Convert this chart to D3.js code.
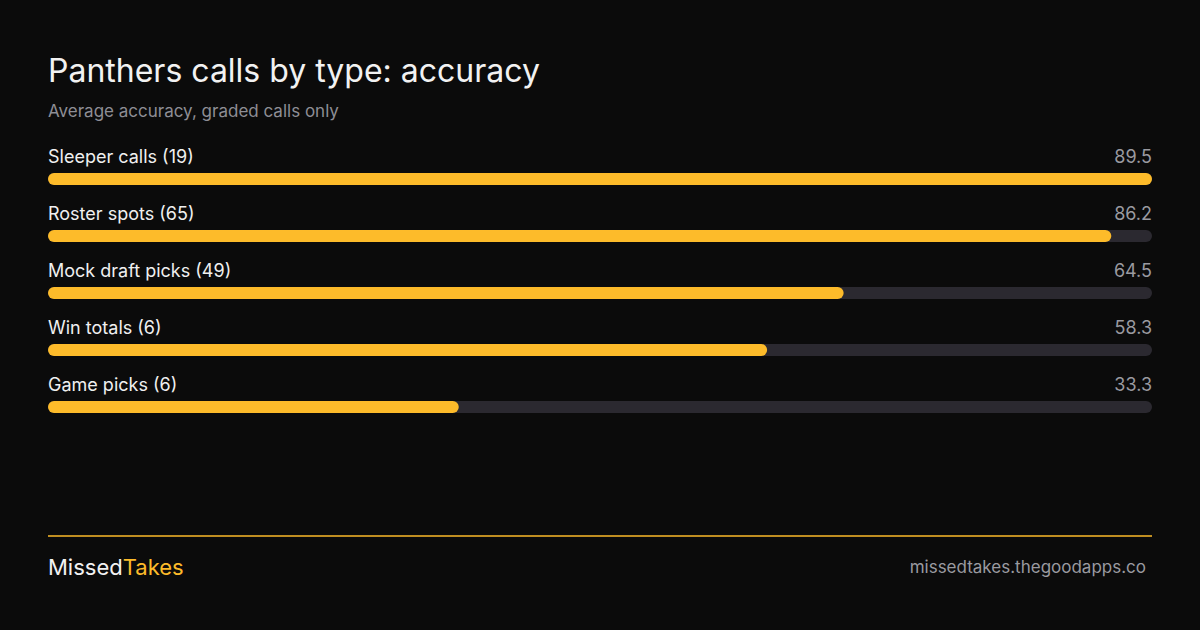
<!DOCTYPE html>
<html><head><meta charset="utf-8">
<script src="https://cdn.jsdelivr.net/npm/d3@7"></script>
<style>body{margin:0;background:#0b0b0b}svg{display:block;font-family:Inter,sans-serif}</style>
</head><body><svg id="c" width="1200" height="630"></svg>
<script>
const categories = ["Sleeper calls (19)","Roster spots (65)","Mock draft picks (49)","Win totals (6)","Game picks (6)"];
const values = [89.5, 86.2, 64.5, 58.3, 33.3];
const svg = d3.select("#c");
svg.append("rect").attr("width",1200).attr("height",630).attr("fill","#0b0b0b");
svg.append("text").attr("x",48).attr("y",82).attr("fill","#f2f2f2").attr("font-size",32).text("Panthers calls by type: accuracy");
svg.append("text").attr("x",48).attr("y",117).attr("fill","#8e8e95").attr("font-size",17).text("Average accuracy, graded calls only");
const x = d3.scaleLinear().domain([0, d3.max(values)]).range([0, 1104]);
const y = d3.scaleBand().domain(categories).range([143, 428]);
const g = svg.selectAll("g.row").data(categories).join("g").attr("transform", d => `translate(48,${y(d)})`);
g.append("text").attr("y",20).attr("fill","#f0f0f0").attr("font-size",18).text(d=>d);
g.append("text").attr("x",1104).attr("y",20).attr("text-anchor","end").attr("fill","#9a9aa0").attr("font-size",18).text((d,i)=>values[i].toFixed(1));
g.append("rect").attr("y",30).attr("width",1104).attr("height",12).attr("rx",6).attr("fill","#2b2930");
g.append("rect").attr("y",30).attr("width",(d,i)=>x(values[i])).attr("height",12).attr("rx",6).attr("fill","#fdbb2a");
svg.append("line").attr("x1",48).attr("x2",1152).attr("y1",536).attr("y2",536).attr("stroke","#fdbb2a").attr("stroke-width",1.5);
const b = svg.append("text").attr("x",48).attr("y",575).attr("font-size",22);
b.append("tspan").attr("fill","#f2f2f2").text("Missed");
b.append("tspan").attr("fill","#fdbb2a").text("Takes");
svg.append("text").attr("x",1146).attr("y",573).attr("text-anchor","end").attr("fill","#9a9aa0").attr("font-size",17).text("missedtakes.thegoodapps.co");
</script></body></html>
